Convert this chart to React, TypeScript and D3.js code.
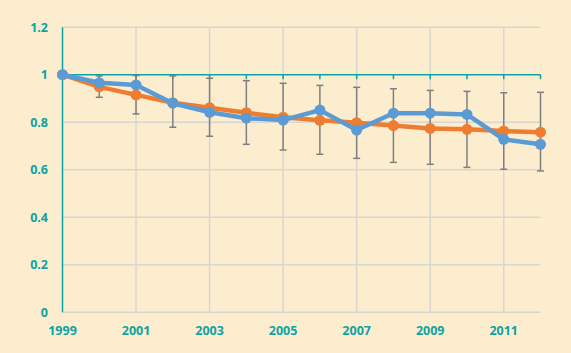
import React from "react";
import * as d3 from "d3";

const years = [1999, 2000, 2001, 2002, 2003, 2004, 2005, 2006, 2007, 2008, 2009, 2010, 2011, 2012];
const orangeValues = [1.0, 0.949, 0.915, 0.882, 0.861, 0.84, 0.821, 0.808, 0.798, 0.786, 0.774, 0.77, 0.763, 0.758];
const blueValues = [1.0, 0.966, 0.957, 0.88, 0.842, 0.817, 0.809, 0.851, 0.767, 0.838, 0.838, 0.833, 0.728, 0.707];
const errHigh = [1.0, 0.995, 0.997, 0.995, 0.985, 0.975, 0.964, 0.955, 0.947, 0.941, 0.934, 0.93, 0.924, 0.926];
const errLow = [1.0, 0.905, 0.835, 0.779, 0.741, 0.707, 0.683, 0.665, 0.648, 0.631, 0.623, 0.61, 0.602, 0.595];
const yTicks = [0, 0.2, 0.4, 0.6, 0.8, 1, 1.2];
const xLabelYears = [1999, 2001, 2003, 2005, 2007, 2009, 2011];

const W = 571;
const H = 353;
const teal = "#0ba3a3";
const grid = "#d9d6d0";
const orange = "#ef7d31";
const blue = "#5b9bd5";
const font = "'Open Sans', 'DejaVu Sans', sans-serif";

export default function App() {
  const x = d3.scaleLinear().domain([1999, 2012]).range([62.5, 540.5]);
  const y = d3.scaleLinear().domain([0, 1.2]).range([312.3, 27.2]);
  const line = d3
    .line<number>()
    .x((_, i) => x(years[i]))
    .y((d) => y(d));

  return (
    <svg width={W} height={H} style={{ position: "absolute", left: 0, top: 0, background: "#fdedcf" }}>
      <rect x={0} y={0} width={W} height={H} fill="#fdedcf" />
      {/* horizontal grid */}
      {yTicks.filter((t) => t !== 1).map((t) => (
        <line key={"h" + t} x1={x(1999)} x2={x(2012)} y1={y(t)} y2={y(t)} stroke={grid} strokeWidth={1.5} />
      ))}
      {/* vertical grid */}
      {xLabelYears.filter((yr) => yr !== 1999).map((yr) => (
        <line key={"v" + yr} x1={x(yr)} x2={x(yr)} y1={y(1.2)} y2={y(0)} stroke={grid} strokeWidth={1.5} />
      ))}
      {/* teal axis at 1 */}
      <line x1={x(1999)} x2={x(2012)} y1={y(1)} y2={y(1)} stroke={teal} strokeWidth={1.5} />
      {years.map((yr) => (
        <line key={"t" + yr} x1={x(yr)} x2={x(yr)} y1={y(1)} y2={y(1) + 4.5} stroke={teal} strokeWidth={1.5} />
      ))}
      {/* y axis */}
      <line x1={x(1999)} x2={x(1999)} y1={y(1.2)} y2={y(0)} stroke={teal} strokeWidth={1.5} />
      {/* error bars */}
      {years.map((yr, i) => (
        <g key={"e" + yr} stroke="#7f7f7f" strokeWidth={1.5} fill="none">
          <line x1={x(yr)} x2={x(yr)} y1={y(errHigh[i])} y2={y(errLow[i])} />
          <line x1={x(yr) - 3.5} x2={x(yr) + 3.5} y1={y(errHigh[i])} y2={y(errHigh[i])} />
          <line x1={x(yr) - 3.5} x2={x(yr) + 3.5} y1={y(errLow[i])} y2={y(errLow[i])} />
        </g>
      ))}
      {/* orange series */}
      <path d={line(orangeValues) || ""} fill="none" stroke={orange} strokeWidth={4.5} strokeLinejoin="round" />
      {orangeValues.map((v, i) => (
        <circle key={"o" + i} cx={x(years[i])} cy={y(v)} r={5.5} fill={orange} />
      ))}
      {/* blue series */}
      <path d={line(blueValues) || ""} fill="none" stroke={blue} strokeWidth={4.5} strokeLinejoin="round" />
      {blueValues.map((v, i) => (
        <circle key={"b" + i} cx={x(years[i])} cy={y(v)} r={5.5} fill={blue} />
      ))}
      {/* y labels */}
      {yTicks.map((t) => (
        <text key={"yl" + t} x={48} y={y(t)} dy="0.36em" textAnchor="end" fill={teal} fontFamily={font} fontWeight={700} fontSize={12.5}>
          {t === 0 || t === 1 ? String(t) : t.toFixed(1)}
        </text>
      ))}
      {/* x labels */}
      {xLabelYears.map((yr) => (
        <text key={"xl" + yr} x={x(yr)} y={335} textAnchor="middle" fill={teal} fontFamily={font} fontWeight={700} fontSize={12.5}>
          {yr}
        </text>
      ))}
    </svg>
  );
}
